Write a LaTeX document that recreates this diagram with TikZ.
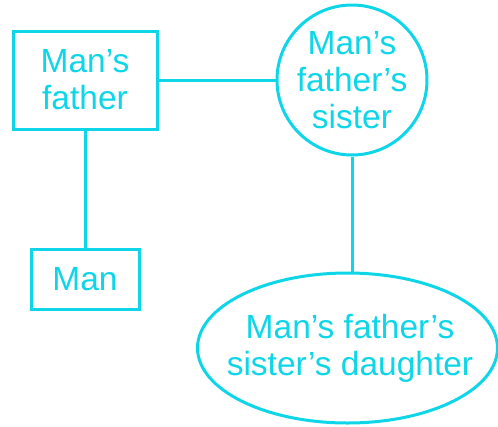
\documentclass[tikz,border=0pt]{standalone}
\usepackage{fontspec}
\setmainfont{Liberation Sans}
\usetikzlibrary{shapes.geometric}
\definecolor{cy}{RGB}{14,214,232}
\begin{document}
\begin{tikzpicture}[x=1pt,y=-1pt,
  lbl/.style={draw=cy,line width=3pt,text=cy,align=center,inner sep=0pt,
    font=\fontsize{33.5}{37}\selectfont},
  txt/.style={text=cy,align=center,inner sep=0pt,font=\fontsize{33.5}{37}\selectfont},
  boxnode/.style={lbl,rectangle},
  circnode/.style={draw=cy,line width=3pt,circle,inner sep=0pt,minimum size=150pt},
  ellnode/.style={draw=cy,line width=3pt,ellipse,inner sep=0pt,minimum width=300pt,minimum height=150pt},
  link/.style={draw=cy,line width=3pt}]
\useasboundingbox (0,0) rectangle (498,426);
\node[boxnode,minimum width=144pt,minimum height=98pt] (mf) at (85,80) {Man's\\father};
\node[boxnode,minimum width=108pt,minimum height=60pt] (man) at (85,279) {Man};
\node[circnode] (mfs) at (352,80) {};
\node[txt] (mfst) at (352,80) {Man's\\father's\\sister};
\node[ellnode] (mfsd) at (347.5,348) {};
\node[txt] (mfsdt) at (350,348) {Man's father's\\sister's daughter};
\draw[link] (mf.east) -- (mfs.west);
\draw[link] (mf.south) -- (man.north);
\draw[link] (mfs.south) -- (mfs.south |- mfsd.north);
\end{tikzpicture}
\end{document}
